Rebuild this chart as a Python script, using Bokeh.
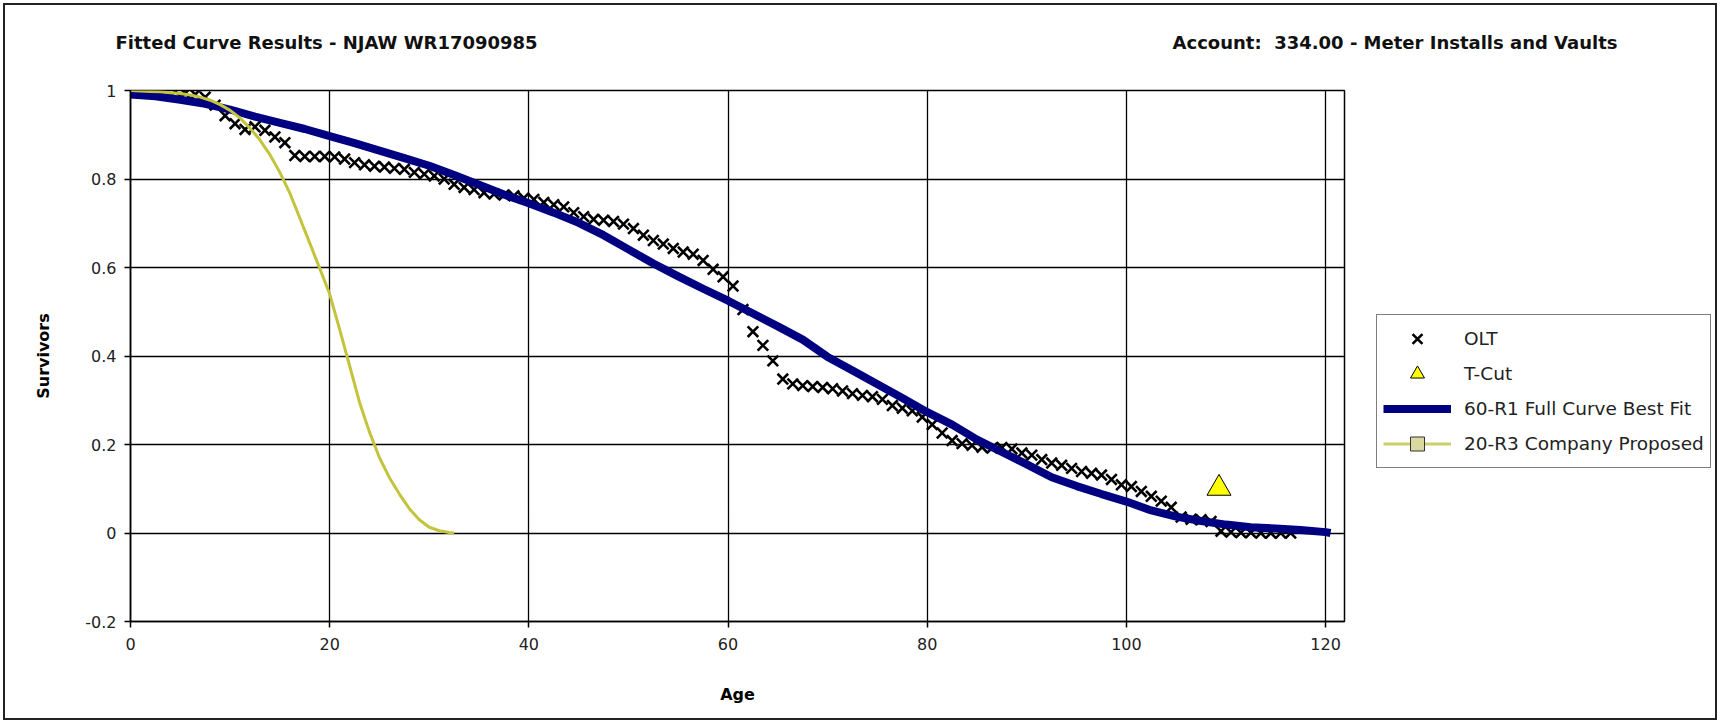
from bokeh.plotting import figure
from bokeh.layouts import column, row
from bokeh.models import Range1d, FixedTicker, Legend, LegendItem
from bokeh.core.properties import value
from bokeh.embed import file_html
from bokeh.resources import INLINE

# ---------------- data ----------------
olt_age = [0, 0.5, 1.5, 2.5, 3.5, 4.5, 5.5, 6.5, 7.5, 8.5,
           9.5, 10.5, 11.5, 12.5, 13.5, 14.5, 15.5, 16.5, 17.5, 18.5,
           19.5, 20.5, 21.5, 22.5, 23.5, 24.5, 25.5, 26.5, 27.5, 28.5,
           29.5, 30.5, 31.5, 32.5, 33.5, 34.5, 35.5, 36.5, 37.5, 38.5,
           39.5, 40.5, 41.5, 42.5, 43.5, 44.5, 45.5, 46.5, 47.5, 48.5,
           49.5, 50.5, 51.5, 52.5, 53.5, 54.5, 55.5, 56.5, 57.5, 58.5,
           59.5, 60.5, 61.5, 62.5, 63.5, 64.5, 65.5, 66.5, 67.5, 68.5,
           69.5, 70.5, 71.5, 72.5, 73.5, 74.5, 75.5, 76.5, 77.5, 78.5,
           79.5, 80.5, 81.5, 82.5, 83.5, 84.5, 85.5, 86.5, 87.5, 88.5,
           89.5, 90.5, 91.5, 92.5, 93.5, 94.5, 95.5, 96.5, 97.5, 98.5,
           99.5, 100.5, 101.5, 102.5, 103.5, 104.5, 105.5, 106.5, 107.5, 108.5,
           109.5, 110.5, 111.5, 112.5, 113.5, 114.5, 115.5, 116.5]
olt_surv = [1.000, 1.000, 1.000, 1.000, 0.999, 0.998, 0.994, 0.991, 0.985, 0.967,
            0.943, 0.925, 0.912, 0.918, 0.910, 0.895, 0.882, 0.853, 0.851, 0.851,
            0.851, 0.850, 0.845, 0.837, 0.832, 0.829, 0.827, 0.824, 0.822, 0.815,
            0.811, 0.807, 0.800, 0.788, 0.781, 0.776, 0.769, 0.766, 0.764, 0.762,
            0.757, 0.754, 0.747, 0.742, 0.737, 0.724, 0.715, 0.709, 0.707, 0.704,
            0.698, 0.688, 0.673, 0.661, 0.653, 0.643, 0.635, 0.630, 0.616, 0.596,
            0.579, 0.558, 0.505, 0.455, 0.424, 0.389, 0.348, 0.337, 0.333, 0.331,
            0.329, 0.326, 0.321, 0.315, 0.311, 0.308, 0.302, 0.288, 0.282, 0.276,
            0.262, 0.245, 0.226, 0.209, 0.202, 0.198, 0.194, 0.192, 0.193, 0.190,
            0.181, 0.176, 0.166, 0.158, 0.153, 0.146, 0.139, 0.135, 0.131, 0.121,
            0.109, 0.105, 0.094, 0.083, 0.072, 0.058, 0.036, 0.031, 0.030, 0.026,
            0.004, 0.002, 0.001, 0.001, 0.000, 0.000, 0.000, 0.000]

tcut_age = [109.3]
tcut_surv = [0.101]

fit_age = [0, 2.5, 5, 7.5, 10, 12.5, 15, 17.5, 20, 22.5,
           25, 27.5, 30, 32.5, 35, 37.5, 40, 42.5, 45, 47.5,
           50, 52.5, 55, 57.5, 60, 62.5, 65, 67.5, 70, 72.5,
           75, 77.5, 80, 82.5, 85, 87.5, 90, 92.5, 95, 97.5,
           100, 102.5, 105, 107.5, 110, 112.5, 115, 117.5, 120, 120.5]
fit_surv = [0.991, 0.987, 0.979, 0.970, 0.957, 0.941, 0.927, 0.913, 0.897, 0.881,
            0.864, 0.847, 0.830, 0.809, 0.787, 0.765, 0.745, 0.724, 0.701, 0.673,
            0.641, 0.609, 0.580, 0.552, 0.525, 0.496, 0.467, 0.437, 0.398, 0.367,
            0.336, 0.305, 0.273, 0.245, 0.211, 0.183, 0.155, 0.126, 0.106, 0.088,
            0.071, 0.051, 0.037, 0.027, 0.019, 0.013, 0.010, 0.007, 0.002, 0.000]

prop_age = [0, 1, 2, 3, 4, 5, 6, 7, 8, 9,
            10, 11, 12, 13, 14, 15, 16, 17, 18, 19,
            20, 21, 22, 23, 24, 25, 26, 27, 28, 29,
            30, 31, 32, 32.5]
prop_surv = [1.000, 0.999, 0.998, 0.997, 0.995, 0.993, 0.990, 0.985, 0.978, 0.968,
             0.955, 0.938, 0.915, 0.888, 0.855, 0.815, 0.768, 0.712, 0.655, 0.598,
             0.540, 0.460, 0.378, 0.295, 0.228, 0.170, 0.125, 0.088, 0.055, 0.030,
             0.013, 0.005, 0.001, 0.000]

x_ticks = [0, 20, 40, 60, 80, 100, 120]
y_ticks = [-0.2, 0, 0.2, 0.4, 0.6, 0.8, 1.0]
y_tick_labels = ["-0.2", "0", "0.2", "0.4", "0.6", "0.8", "1"]

series_names = ["OLT", "T-Cut", "60-R1 Full Curve Best Fit", "20-R3 Company Proposed"]
title_left = "Fitted Curve Results - NJAW WR17090985"
title_right = "Account:\u00a0 334.00 - Meter Installs and Vaults"

# styles
OLT_STYLE = dict(marker="x", size=15, line_color="black", line_width=2.6)
TCUT_STYLE = dict(marker="triangle", size=24, fill_color="#ffff00",
                  line_color="black", line_width=1)
FIT_STYLE = dict(line_color="#000080", line_width=8)
PROP_STYLE = dict(line_color="#c4c43c", line_width=3)

# overall content size 1710 x 713 (plus 3px margin + 2px border each side)
W_ALL = 1710
H_HEAD = 70
H_MAIN = 643
W_MAIN = 1351
W_LEG = W_ALL - W_MAIN

# ---------------- header with the two titles ----------------
head = figure(width=W_ALL, height=H_HEAD, output_backend="svg", toolbar_location=None,
              x_axis_type=None, y_axis_type=None,
              x_range=Range1d(0, W_ALL), y_range=Range1d(H_HEAD, 0),
              min_border=0, min_border_left=0, min_border_right=0,
              min_border_top=0, min_border_bottom=0)
head.outline_line_color = None
head.background_fill_color = "white"
head.border_fill_color = "white"
head.text(x=[110], y=[37], text=[title_left], text_font=value("DejaVu Sans"),
          text_font_style="bold", text_font_size="18px", text_color="#111",
          text_align="left", text_baseline="middle")
head.text(x=[1612], y=[37], text=[title_right], text_font=value("DejaVu Sans"),
          text_font_style="bold", text_font_size="18px", text_color="#111",
          text_align="right", text_baseline="middle")

# ---------------- main chart ----------------
p = figure(width=W_MAIN, height=H_MAIN, output_backend="svg", toolbar_location=None,
           x_range=Range1d(0, 121.9), y_range=Range1d(-0.2, 1.0),
           min_border_left=125, min_border_right=12,
           min_border_top=15, min_border_bottom=97)
p.background_fill_color = "white"
p.border_fill_color = "white"
p.outline_line_color = "black"
p.outline_line_width = 1.5

for ax in (p.xaxis[0], p.yaxis[0]):
    ax.axis_line_color = "black"
    ax.axis_line_width = 1.5
    ax.major_tick_line_color = "black"
    ax.major_tick_line_width = 1.5
    ax.major_tick_out = 6
    ax.major_tick_in = 0
    ax.minor_tick_line_color = None
    ax.major_label_text_font = "DejaVu Sans"
    ax.major_label_text_font_size = "16px"
    ax.major_label_text_color = "#222"
    ax.axis_label_text_font = "DejaVu Sans"
    ax.axis_label_text_font_style = "bold"
    ax.axis_label_text_font_size = "16px"
    ax.axis_label_text_color = "black"

p.xaxis[0].ticker = FixedTicker(ticks=x_ticks)
p.yaxis[0].ticker = FixedTicker(ticks=y_ticks)
p.yaxis[0].major_label_overrides = {t: s for t, s in zip(y_ticks, y_tick_labels)}
p.xaxis[0].axis_label = "Age"
p.yaxis[0].axis_label = "Survivors"
p.xaxis[0].major_label_standoff = 10
p.xaxis[0].axis_label_standoff = 32
p.yaxis[0].major_label_standoff = 8
p.yaxis[0].axis_label_standoff = 29

p.xgrid.ticker = FixedTicker(ticks=x_ticks)
p.ygrid.ticker = FixedTicker(ticks=y_ticks)
for g in (p.xgrid[0], p.ygrid[0]):
    g.grid_line_color = "black"
    g.grid_line_width = 1.3
    g.grid_line_alpha = 1.0

p.scatter(olt_age, olt_surv, **OLT_STYLE)
p.scatter(tcut_age, tcut_surv, **TCUT_STYLE)
p.line(fit_age, fit_surv, **FIT_STYLE)
p.line(prop_age, prop_surv, **PROP_STYLE)

# ---------------- legend panel (to the right of the chart) ----------------
leg = figure(width=W_LEG, height=H_MAIN, output_backend="svg", toolbar_location=None,
             x_axis_type=None, y_axis_type=None,
             x_range=Range1d(0, 121.9), y_range=Range1d(-0.2, 1.0),
             min_border=0, min_border_left=0, min_border_right=0,
             min_border_top=0, min_border_bottom=0)
leg.outline_line_color = None
leg.background_fill_color = "white"
leg.border_fill_color = "white"
l_olt = leg.scatter(olt_age, olt_surv, **OLT_STYLE)
l_tcut = leg.scatter(tcut_age, tcut_surv, **TCUT_STYLE)
l_fit = leg.line(fit_age, fit_surv, **FIT_STYLE)
l_prop = leg.line(prop_age, prop_surv, line_color="#cfcf6a", line_width=3)
l_prop_mark = leg.scatter(prop_age, prop_surv, marker="square", size=8,
                          fill_color="#d9d9a0", line_color="#333", line_width=1)
for r in (l_olt, l_tcut, l_fit, l_prop, l_prop_mark):
    r.visible = False

legend = Legend(items=[
    LegendItem(label=series_names[0], renderers=[l_olt]),
    LegendItem(label=series_names[1], renderers=[l_tcut]),
    LegendItem(label=series_names[2], renderers=[l_fit]),
    LegendItem(label=series_names[3], renderers=[l_prop, l_prop_mark]),
], location=(20, 153))
legend.click_policy = "none"
legend.inactive_fill_alpha = 0.0
legend.border_line_color = "black"
legend.border_line_width = 1.5
legend.background_fill_color = "white"
legend.background_fill_alpha = 1.0
legend.label_text_font = "DejaVu Sans"
legend.label_text_font_size = "18.5px"
legend.label_text_color = "#222"
legend.glyph_width = 68
legend.glyph_height = 35
legend.label_height = 35
legend.spacing = 0
legend.padding = 6
legend.label_standoff = 13
legend.margin = 0
leg.add_layout(legend)

layout = column(head, row(p, leg))
layout.styles = {"border": "2px solid #222", "margin": "3px"}

open("out.html", "w").write(file_html(layout, INLINE))
